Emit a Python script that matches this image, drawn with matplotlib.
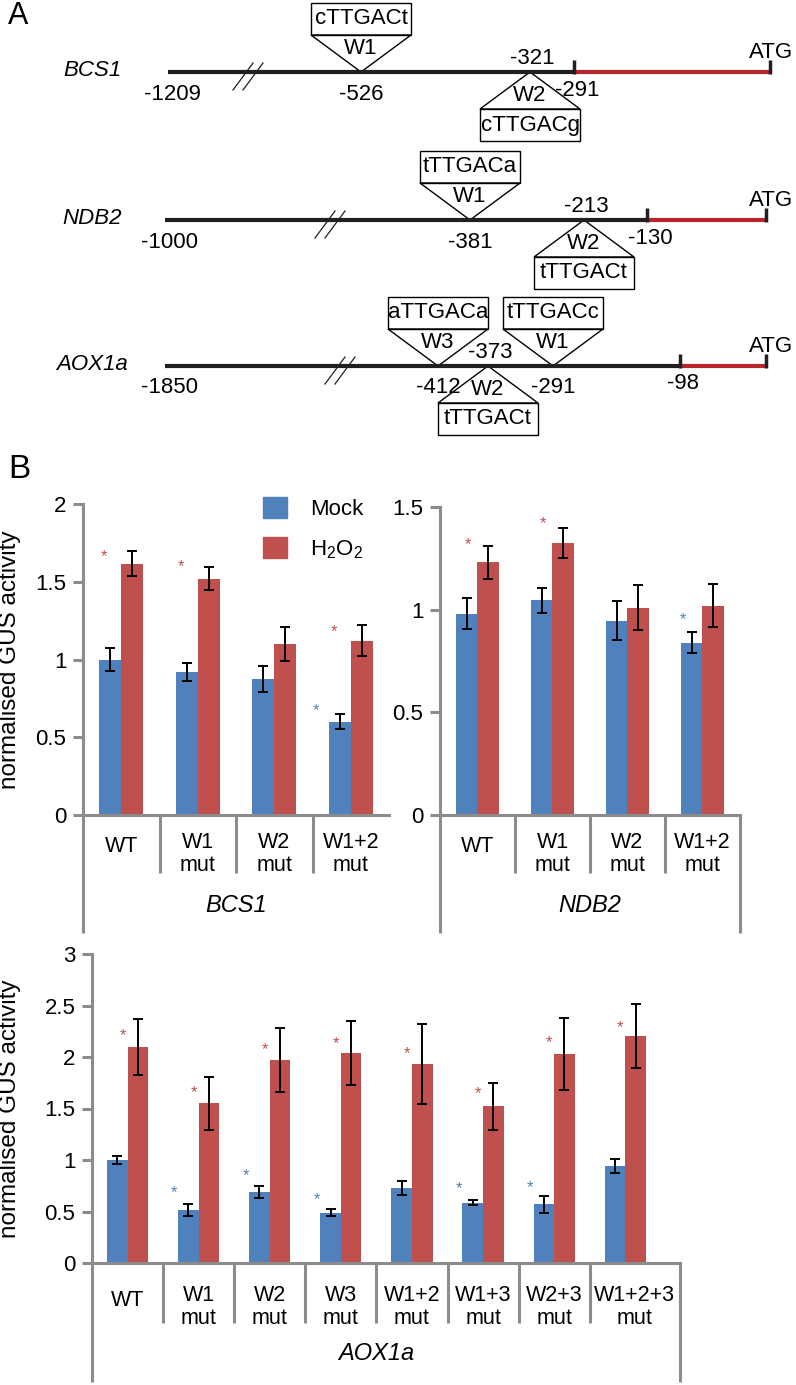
import numpy as np
import matplotlib.pyplot as plt
from matplotlib.patches import Polygon, Rectangle, Patch

plt.rcParams['font.family'] = ['Liberation Sans', 'DejaVu Sans']
plt.rcParams['mathtext.fontset'] = 'custom'
plt.rcParams['mathtext.rm'] = 'Liberation Sans'

W, H = 796, 1385
BLUE = '#4F81BD'
RED = '#C0504D'
GRAY = '#8C8C8C'
LINE_RED = '#B8262B'

# ---------------- panel A: promoter schematics ----------------
genes = ['BCS1', 'NDB2', 'AOX1a']
gene_start = ['-1209', '-1000', '-1850']
gene_tss = ['-291', '-130', '-98']
site_names = [['W1', 'W2'], ['W1', 'W2'], ['W3', 'W2', 'W1']]
site_pos = [['-526', '-321'], ['-381', '-213'], ['-412', '-373', '-291']]
site_seq = [['cTTGACt', 'cTTGACg'], ['tTTGACa', 'tTTGACt'],
            ['aTTGACa', 'tTTGACt', 'tTTGACc']]
site_up = [[True, False], [True, False], [True, False, True]]

# schematic layout (pixels)
row_y = [72, 220, 366]
line_x0 = [168, 165, 165]
tss_x = [574, 647, 680]
atg_x = [770, 766, 766]
break_x = [248, 330, 340]
site_x = [[361, 530], [470, 584], [438, 488, 553]]

# ---------------- panel B: GUS activity ----------------
series = ['Mock', 'H$_2$O$_2$']

bcs1_groups = ['WT', 'W1\nmut', 'W2\nmut', 'W1+2\nmut']
bcs1_mock = [1.00, 0.92, 0.875, 0.60]
bcs1_mock_err = [0.075, 0.06, 0.085, 0.05]
bcs1_h2o2 = [1.615, 1.52, 1.10, 1.12]
bcs1_h2o2_err = [0.08, 0.075, 0.11, 0.10]
bcs1_stars = [(0, 1, 1.66), (1, 1, 1.60), (3, 1, 1.18), (3, 0, 0.67)]

ndb2_groups = ['WT', 'W1\nmut', 'W2\nmut', 'W1+2\nmut']
ndb2_mock = [0.98, 1.045, 0.945, 0.84]
ndb2_mock_err = [0.075, 0.06, 0.095, 0.05]
ndb2_h2o2 = [1.23, 1.325, 1.01, 1.02]
ndb2_h2o2_err = [0.08, 0.075, 0.11, 0.105]
ndb2_stars = [(0, 1, 1.315), (1, 1, 1.42), (3, 0, 0.95)]

aox_groups = ['WT', 'W1\nmut', 'W2\nmut', 'W3\nmut', 'W1+2\nmut',
              'W1+3\nmut', 'W2+3\nmut', 'W1+2+3\nmut']
aox_mock = [1.00, 0.515, 0.69, 0.49, 0.73, 0.585, 0.57, 0.94]
aox_mock_err = [0.04, 0.055, 0.055, 0.035, 0.065, 0.025, 0.08, 0.07]
aox_h2o2 = [2.10, 1.55, 1.97, 2.04, 1.93, 1.52, 2.03, 2.20]
aox_h2o2_err = [0.27, 0.26, 0.31, 0.31, 0.39, 0.23, 0.35, 0.31]
aox_stars = [(0, 1, 2.21), (1, 1, 1.65), (2, 1, 2.07), (3, 1, 2.13),
             (4, 1, 2.03), (5, 1, 1.64), (6, 1, 2.14), (7, 1, 2.29),
             (1, 0, 0.68), (2, 0, 0.85), (3, 0, 0.62), (5, 0, 0.72), (6, 0, 0.73)]

fig = plt.figure(figsize=(W / 100, H / 100), dpi=100)


def px_axes(l, t, r, b):
    return fig.add_axes([l / W, 1 - b / H, (r - l) / W, (b - t) / H])


# ---- panel A ----
axA = px_axes(0, 0, W, 450)
axA.set_xlim(0, W)
axA.set_ylim(450, 0)
axA.axis('off')
fsA = 16

axA.text(8, 16, 'A', fontsize=22, ha='left', va='center')

for g in range(len(genes)):
    y = row_y[g]
    axA.text(92, y - 1, genes[g], style='italic', fontsize=fsA, ha='center', va='center')
    axA.plot([line_x0[g], tss_x[g]], [y, y], color='#231F20', lw=3, solid_capstyle='butt')
    axA.plot([tss_x[g], atg_x[g]], [y, y], color=LINE_RED, lw=3, solid_capstyle='butt')
    for tx in (tss_x[g], atg_x[g]):
        axA.plot([tx, tx], [y - 12, y + 2], color='#231F20', lw=2.5, solid_capstyle='butt')
    axA.text(793, y - 20, 'ATG', fontsize=fsA, ha='right', va='center')
    axA.text(line_x0[g] + 4, y + 22, gene_start[g], fontsize=fsA, ha='center', va='center')
    axA.text(tss_x[g] + 3, y + 18, gene_tss[g], fontsize=fsA, ha='center', va='center')
    # break marks
    bx = break_x[g]
    for dx in (-5, 5):
        axA.plot([bx + dx - 10, bx + dx + 10], [y + 18, y - 9], color='#231F20', lw=0.9)
    # W-box sites
    for k in range(len(site_names[g])):
        sx = site_x[g][k]
        s = -1 if site_up[g][k] else 1
        tri_h, half, box_h = 37, 50, 32
        base = y + s * tri_h
        axA.add_patch(Polygon([(sx, y), (sx - half, base), (sx + half, base)],
                              closed=True, fill=False, ec='black', lw=1))
        top = base if s > 0 else base - box_h
        axA.add_patch(Rectangle((sx - half, top), 2 * half, box_h,
                                fill=False, ec='black', lw=1))
        axA.text(sx, y + s * tri_h * 0.64, site_names[g][k], fontsize=fsA,
                 ha='center', va='center')
        axA.text(sx, base + s * box_h / 2, site_seq[g][k], fontsize=fsA,
                 ha='center', va='center')
        if site_up[g][k]:
            axA.text(sx, y + 22, site_pos[g][k], fontsize=fsA, ha='center', va='center')
        else:
            axA.text(sx + 2, y - 14, site_pos[g][k], fontsize=fsA, ha='center', va='center')


# ---- panel B ----
def bar_panel(ax, box, groups, mock, mock_err, h2o2, h2o2_err, stars, ymax, xmax,
              gene, ylabel, star_off, lab_off, short_px, long_px, long_right):
    l, t, r, b = box
    ax_h = b - t
    n = len(groups)
    x = np.arange(n) + 0.5
    bw = 0.29
    ekw = dict(ecolor='black', elinewidth=1.4, capsize=3.5, capthick=1.4)
    ax.bar(x - bw / 2, mock, bw, color=BLUE, yerr=mock_err, error_kw=ekw, zorder=2)
    ax.bar(x + bw / 2, h2o2, bw, color=RED, yerr=h2o2_err, error_kw=ekw, zorder=2)
    for gi, si, yv in stars:
        ax.text(gi + 0.5 + star_off[si], yv, '*', color=BLUE if si == 0 else RED,
                fontsize=12, ha='center', va='center')
    ax.set_xlim(0, xmax)
    ax.set_ylim(0, ymax)
    ticks = np.arange(0, ymax + 0.01, 0.5)
    ax.set_yticks(ticks)
    ax.set_yticklabels([f'{v:g}' for v in ticks])
    ax.set_xticks([])
    ax.tick_params(axis='y', direction='out', length=7, width=2.2, color=GRAY,
                   labelsize=16, pad=5)
    for sp in ('top', 'right'):
        ax.spines[sp].set_visible(False)
    for sp in ('left', 'bottom'):
        ax.spines[sp].set_color(GRAY)
        ax.spines[sp].set_linewidth(2.2)
    ax.patch.set_alpha(0)
    trans = ax.get_xaxis_transform()
    lk = dict(color=GRAY, lw=2.2, clip_on=False, solid_capstyle='butt', transform=trans)
    for k in range(1, n):
        ax.plot([k, k], [0, -short_px / ax_h], **lk)
    ax.plot([0, 0], [0, -long_px / ax_h], **lk)
    if long_right:
        ax.plot([xmax, xmax], [0, -long_px / ax_h], **lk)
    edges = list(range(n)) + [xmax]
    for i, lab in enumerate(groups):
        off = lab_off if '\n' in lab else lab_off - 7
        ax.annotate(lab, xy=((edges[i] + edges[i + 1]) / 2, 0), xycoords=trans,
                    xytext=(0, -off), textcoords='offset pixels', ha='center',
                    va='center', fontsize=15.5, linespacing=1.15)
    ax.annotate(gene, xy=(n / 2, 0), xycoords=trans, xytext=(0, -90),
                textcoords='offset pixels', ha='center', va='center',
                fontsize=17, style='italic')
    if ylabel:
        ax.set_ylabel(ylabel, fontsize=17.5)
        ax.yaxis.set_label_coords((21 - l) / (r - l), 0.5)


box_bcs1 = (83, 504, 389, 815)
box_ndb2 = (440, 507, 740, 815)
box_aox = (92, 954, 680, 1263)

ax1 = px_axes(*box_bcs1)
bar_panel(ax1, box_bcs1, bcs1_groups, bcs1_mock, bcs1_mock_err, bcs1_h2o2, bcs1_h2o2_err,
          bcs1_stars, 2, 4, 'BCS1', 'normalised GUS activity', (-0.45, -0.22),
          39, 58, 118, False)

ax2 = px_axes(*box_ndb2)
bar_panel(ax2, box_ndb2, ndb2_groups, ndb2_mock, ndb2_mock_err, ndb2_h2o2, ndb2_h2o2_err,
          ndb2_stars, 1.5, 4, 'NDB2', None, (-0.26, -0.13),
          39, 58, 118, True)

ax3 = px_axes(*box_aox)
bar_panel(ax3, box_aox, aox_groups, aox_mock, aox_mock_err, aox_h2o2, aox_h2o2_err,
          aox_stars, 3, 8.27, 'AOX1a', 'normalised GUS activity', (-0.34, -0.07),
          44, 60, 119, True)

fig.text(8 / W, 1 - 470 / H, 'B', fontsize=24, ha='left', va='center')

fig.legend(handles=[Patch(color=BLUE), Patch(color=RED)], labels=series,
           loc='upper left', bbox_to_anchor=(263 / W, 1 - 497 / H), frameon=False,
           fontsize=16, handlelength=1.1, handleheight=1.1, handletextpad=1.0,
           labelspacing=0.75, borderpad=0, borderaxespad=0)

fig.savefig('out.png', dpi=100)
